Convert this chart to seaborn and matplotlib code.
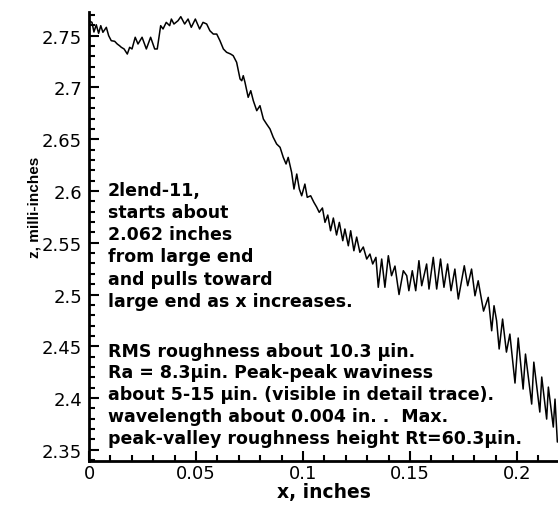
import numpy as np
import pandas as pd
import matplotlib
matplotlib.use("Agg")
import matplotlib.pyplot as plt
from matplotlib.ticker import MultipleLocator, FormatStrFormatter
import seaborn as sns

# profile trace (x in inches, z in milli-inches)
x_in = [0.0002, 0.0014, 0.0023, 0.0034, 0.0045, 0.0055, 0.0065, 0.0081, 0.0092, 0.0104,
        0.0120, 0.0132, 0.0143, 0.0151, 0.0164, 0.0179, 0.0190, 0.0201, 0.0216, 0.0229,
        0.0248, 0.0268, 0.0288, 0.0307, 0.0319, 0.0335, 0.0346, 0.0361, 0.0377, 0.0385,
        0.0397, 0.0416, 0.0429, 0.0447, 0.0463, 0.0478, 0.0497, 0.0517, 0.0533,
        0.0550, 0.0565, 0.0581, 0.0597, 0.0612, 0.0628, 0.0643, 0.0662, 0.0674, 0.0690,
        0.0706, 0.0714, 0.0721, 0.0729, 0.0744, 0.0756, 0.0768, 0.0784, 0.0799, 0.0815,
        0.0830, 0.0846, 0.0861, 0.0877, 0.0893, 0.0908, 0.0921, 0.0931, 0.0947, 0.0958,
        0.0971, 0.0983, 0.0994, 0.1009, 0.1020,
        0.1036, 0.1051, 0.1064, 0.1076, 0.1091, 0.1103, 0.1116, 0.1129, 0.1142, 0.1157,
        0.1170, 0.1186, 0.1196, 0.1212, 0.1223, 0.1238, 0.1251, 0.1266, 0.1282, 0.1298,
        0.1313, 0.1326, 0.1341, 0.1352, 0.1368, 0.1383, 0.1399, 0.1414, 0.1430, 0.1449,
        0.1469, 0.1485, 0.1495, 0.1511, 0.1527, 0.1542, 0.1555, 0.1578, 0.1589, 0.1609,
        0.1625, 0.1643, 0.1659, 0.1676, 0.1692, 0.1710, 0.1726, 0.1754, 0.1770, 0.1788,
        0.1804, 0.1819, 0.1844, 0.1866, 0.1882, 0.1893, 0.1905, 0.1917, 0.1933, 0.1951,
        0.1967, 0.1991, 0.2006, 0.2029, 0.2040, 0.2069, 0.2079, 0.2107, 0.2116, 0.2139,
        0.2147, 0.2170, 0.2178, 0.2189]
z_mil = [2.7642, 2.7629, 2.7536, 2.7606, 2.7523, 2.7597, 2.7533, 2.7581, 2.7500, 2.7452,
         2.7446, 2.7420, 2.7403, 2.7388, 2.7372, 2.7323, 2.7388, 2.7372, 2.7485, 2.7420,
         2.7485, 2.7372, 2.7485, 2.7372, 2.7372, 2.7597, 2.7565, 2.7629, 2.7597, 2.7661,
         2.7613, 2.7645, 2.7684, 2.7613, 2.7661, 2.7581, 2.7661, 2.7565, 2.7629,
         2.7613, 2.7548, 2.7516, 2.7516, 2.7452, 2.7372, 2.7340, 2.7323, 2.7307, 2.7243,
         2.7082, 2.7065, 2.7114, 2.7050, 2.6905, 2.6969, 2.6872, 2.6776, 2.6824, 2.6695,
         2.6647, 2.6599, 2.6519, 2.6454, 2.6422, 2.6325, 2.6261, 2.6325, 2.6180, 2.6019,
         2.6164, 2.6019, 2.5954, 2.6067, 2.5939,
         2.5954, 2.5891, 2.5845, 2.5794, 2.5836, 2.5697, 2.5768, 2.5616, 2.5739, 2.5575,
         2.5697, 2.5520, 2.5633, 2.5471, 2.5616, 2.5423, 2.5555, 2.5408, 2.5459, 2.5343,
         2.5391, 2.5295, 2.5359, 2.5070, 2.5343, 2.5070, 2.5375, 2.5182, 2.5275, 2.5000,
         2.5230, 2.5182, 2.5037, 2.5230, 2.5037, 2.5327, 2.5085, 2.5295, 2.5053, 2.5359,
         2.5053, 2.5343, 2.5070, 2.5295, 2.5037, 2.5246, 2.4957, 2.5278, 2.5085, 2.5246,
         2.4988, 2.5133, 2.4840, 2.4973, 2.4650, 2.4892, 2.4747, 2.4474, 2.4763, 2.4444,
         2.4618, 2.4145, 2.4580, 2.4087, 2.4425, 2.3942, 2.4347, 2.3865, 2.4203, 2.3797,
         2.4106, 2.3720, 2.3990, 2.3575]

x_ticks = [0, 0.05, 0.1, 0.15, 0.2]
z_ticks = [2.35, 2.4, 2.45, 2.5, 2.55, 2.6, 2.65, 2.7, 2.75]

note_top = "2lend-11,\nstarts about\n2.062 inches\nfrom large end\nand pulls toward\nlarge end as x increases."
note_bottom = ("RMS roughness about 10.3 \u00b5in.\n"
               "Ra = 8.3\u00b5in. Peak-peak waviness\n"
               "about 5-15 \u00b5in. (visible in detail trace).\n"
               "wavelength about 0.004 in. .  Max.\n"
               "peak-valley roughness height Rt=60.3\u00b5in.")

sns.set_style("ticks")
plt.rcParams["font.family"] = ["DejaVu Sans"]
for key in ["text.color", "axes.labelcolor", "xtick.color", "ytick.color", "axes.edgecolor"]:
    plt.rcParams[key] = "black"

df = pd.DataFrame({"x": x_in, "z": z_mil})

fig = plt.figure(figsize=(5.58, 5.10), dpi=100)
ax = fig.add_axes([0.1595, 0.0941, 0.8405, 0.8804])
sns.lineplot(data=df, x="x", y="z", sort=False, estimator=None, color="black", lw=1.1, ax=ax)

ax.set_xlim(0, 0.2192)
ax.set_ylim(2.3392, 2.7729)
ax.set_xticks(x_ticks)
ax.set_yticks(z_ticks)
ax.xaxis.set_major_formatter(FormatStrFormatter("%g"))
ax.yaxis.set_major_formatter(FormatStrFormatter("%g"))
ax.xaxis.set_minor_locator(MultipleLocator(0.01))
ax.yaxis.set_minor_locator(MultipleLocator(0.01))
ax.tick_params(which="both", direction="in", labelsize=13, width=1.5, color="black")
ax.tick_params(which="major", length=7)
ax.tick_params(which="minor", length=4)
ax.tick_params(axis="x", pad=2)
ax.tick_params(axis="y", pad=5)
for side in ["top", "right"]:
    ax.spines[side].set_visible(False)
for side in ["left", "bottom"]:
    ax.spines[side].set_linewidth(2)

ax.set_xlabel("x, inches", fontsize=13.5, fontweight="bold", labelpad=0.5)
ax.set_ylabel("z, milli-inches", fontsize=11, fontweight="bold",
              family=["Liberation Sans", "DejaVu Sans"])
ax.yaxis.set_label_coords(-0.102, 0.566)

ax.text(0.0405, 0.623, note_top, transform=ax.transAxes, fontsize=12.5,
        fontweight="bold", va="top", ha="left", linespacing=1.29)
ax.text(0.0405, 0.266, note_bottom, transform=ax.transAxes, fontsize=12.5,
        fontweight="bold", va="top", ha="left", linespacing=1.28)

fig.savefig("out.png", dpi=100)
plt.close(fig)
